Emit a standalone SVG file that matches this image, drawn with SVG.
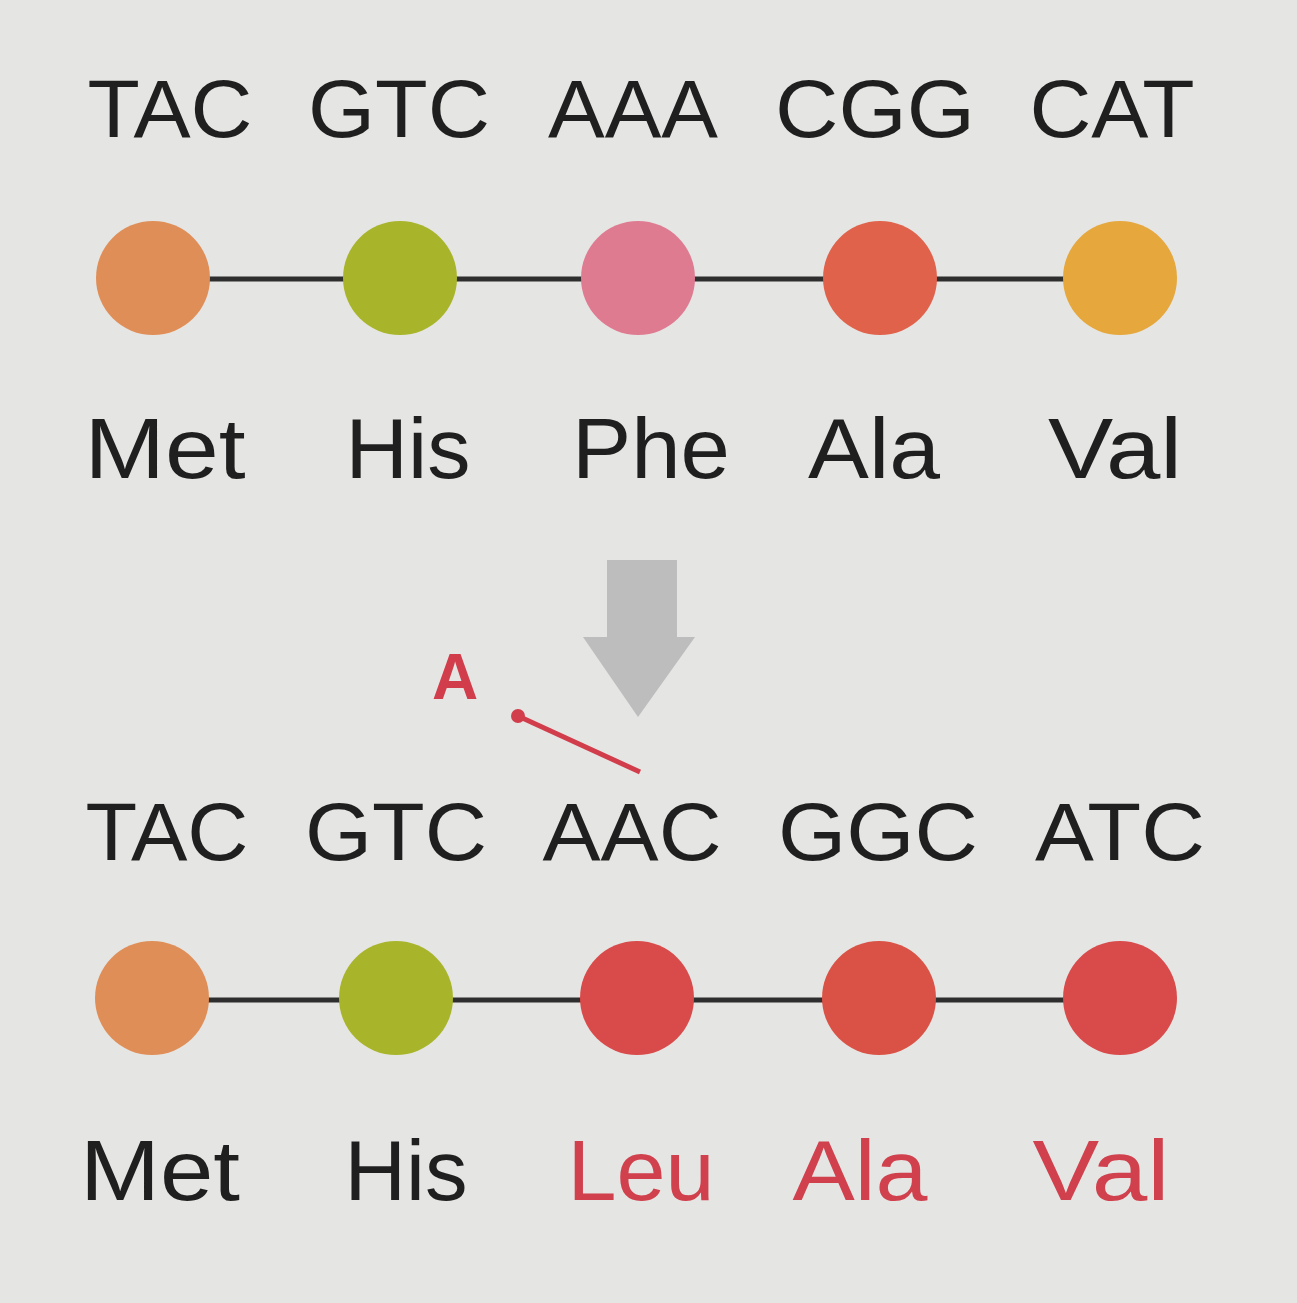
<svg xmlns="http://www.w3.org/2000/svg" width="1297" height="1303" viewBox="0 0 1297 1303">
<style>
.cod{font-family:"Liberation Sans","DejaVu Sans",sans-serif;font-size:82px;fill:#1f1f1f;text-anchor:middle}
.aa{font-family:"Liberation Sans","DejaVu Sans",sans-serif;font-size:86px;fill:#1f1f1f;text-anchor:middle}
.red{fill:#d0404d}
.bond{stroke:#2e2e2e;stroke-width:5}
</style>
<rect width="1297" height="1303" fill="#e5e5e3"/>
<g id="connectors">
<line class="bond" x1="153" y1="279" x2="1120" y2="279"/>
<line class="bond" x1="152" y1="1000" x2="1120" y2="1000"/>
<path d="M607 560 H677 V637 H695 L638 717 L583 637 H607 Z" fill="#bdbdbd"/>
<line x1="640" y1="772" x2="518" y2="716" stroke="#d23d4c" stroke-width="5"/>
<circle cx="518" cy="716" r="7" fill="#d23d4c"/>
</g>
<g id="top-codons">
<text class="cod" x="170" y="137" textLength="165" lengthAdjust="spacingAndGlyphs">TAC</text>
<text class="cod" x="399" y="137" textLength="182" lengthAdjust="spacingAndGlyphs">GTC</text>
<text class="cod" x="633" y="137" textLength="170" lengthAdjust="spacingAndGlyphs">AAA</text>
<text class="cod" x="875" y="137" textLength="200" lengthAdjust="spacingAndGlyphs">CGG</text>
<text class="cod" x="1112" y="137" textLength="165" lengthAdjust="spacingAndGlyphs">CAT</text>
</g>
<g id="top-chain">
<circle id="t1" cx="153" cy="278" r="57" fill="#e08e57"/>
<circle id="t2" cx="400" cy="278" r="57" fill="#a8b52a"/>
<circle id="t3" cx="638" cy="278" r="57" fill="#df7b91"/>
<circle id="t4" cx="880" cy="278" r="57" fill="#e0624b"/>
<circle id="t5" cx="1120" cy="278" r="57" fill="#e6a73c"/>
</g>
<g id="top-labels">
<text class="aa" x="165" y="478" textLength="161" lengthAdjust="spacingAndGlyphs">Met</text>
<text class="aa" x="408" y="478" textLength="125" lengthAdjust="spacingAndGlyphs">His</text>
<text class="aa" x="651" y="478" textLength="158" lengthAdjust="spacingAndGlyphs">Phe</text>
<text class="aa" x="874" y="478" textLength="132" lengthAdjust="spacingAndGlyphs">Ala</text>
<text class="aa" x="1115" y="478" textLength="134" lengthAdjust="spacingAndGlyphs">Val</text>
</g>
<g id="insert">
<text x="455" y="699" font-family="Liberation Sans,DejaVu Sans,sans-serif" font-size="64" font-weight="bold" fill="#d23d4c" text-anchor="middle">A</text>
</g>
<g id="bottom-codons">
<text class="cod" x="167" y="860" textLength="163" lengthAdjust="spacingAndGlyphs">TAC</text>
<text class="cod" x="396" y="860" textLength="182" lengthAdjust="spacingAndGlyphs">GTC</text>
<text class="cod" x="632" y="860" textLength="179" lengthAdjust="spacingAndGlyphs">AAC</text>
<text class="cod" x="878" y="860" textLength="200" lengthAdjust="spacingAndGlyphs">GGC</text>
<text class="cod" x="1120" y="860" textLength="170" lengthAdjust="spacingAndGlyphs">ATC</text>
</g>
<g id="bottom-chain">
<circle id="b1" cx="152" cy="998" r="57" fill="#df8e57"/>
<circle id="b2" cx="396" cy="998" r="57" fill="#a8b52a"/>
<circle id="b3" cx="637" cy="998" r="57" fill="#d94a4a"/>
<circle id="b4" cx="879" cy="998" r="57" fill="#da5245"/>
<circle id="b5" cx="1120" cy="998" r="57" fill="#d94a4a"/>
</g>
<g id="bottom-labels">
<text class="aa" x="160" y="1200" textLength="160" lengthAdjust="spacingAndGlyphs">Met</text>
<text class="aa" x="406" y="1200" textLength="123" lengthAdjust="spacingAndGlyphs">His</text>
<text class="aa red" x="641" y="1200" textLength="147" lengthAdjust="spacingAndGlyphs">Leu</text>
<text class="aa red" x="860" y="1200" textLength="135" lengthAdjust="spacingAndGlyphs">Ala</text>
<text class="aa red" x="1101" y="1200" textLength="137" lengthAdjust="spacingAndGlyphs">Val</text>
</g>
</svg>
